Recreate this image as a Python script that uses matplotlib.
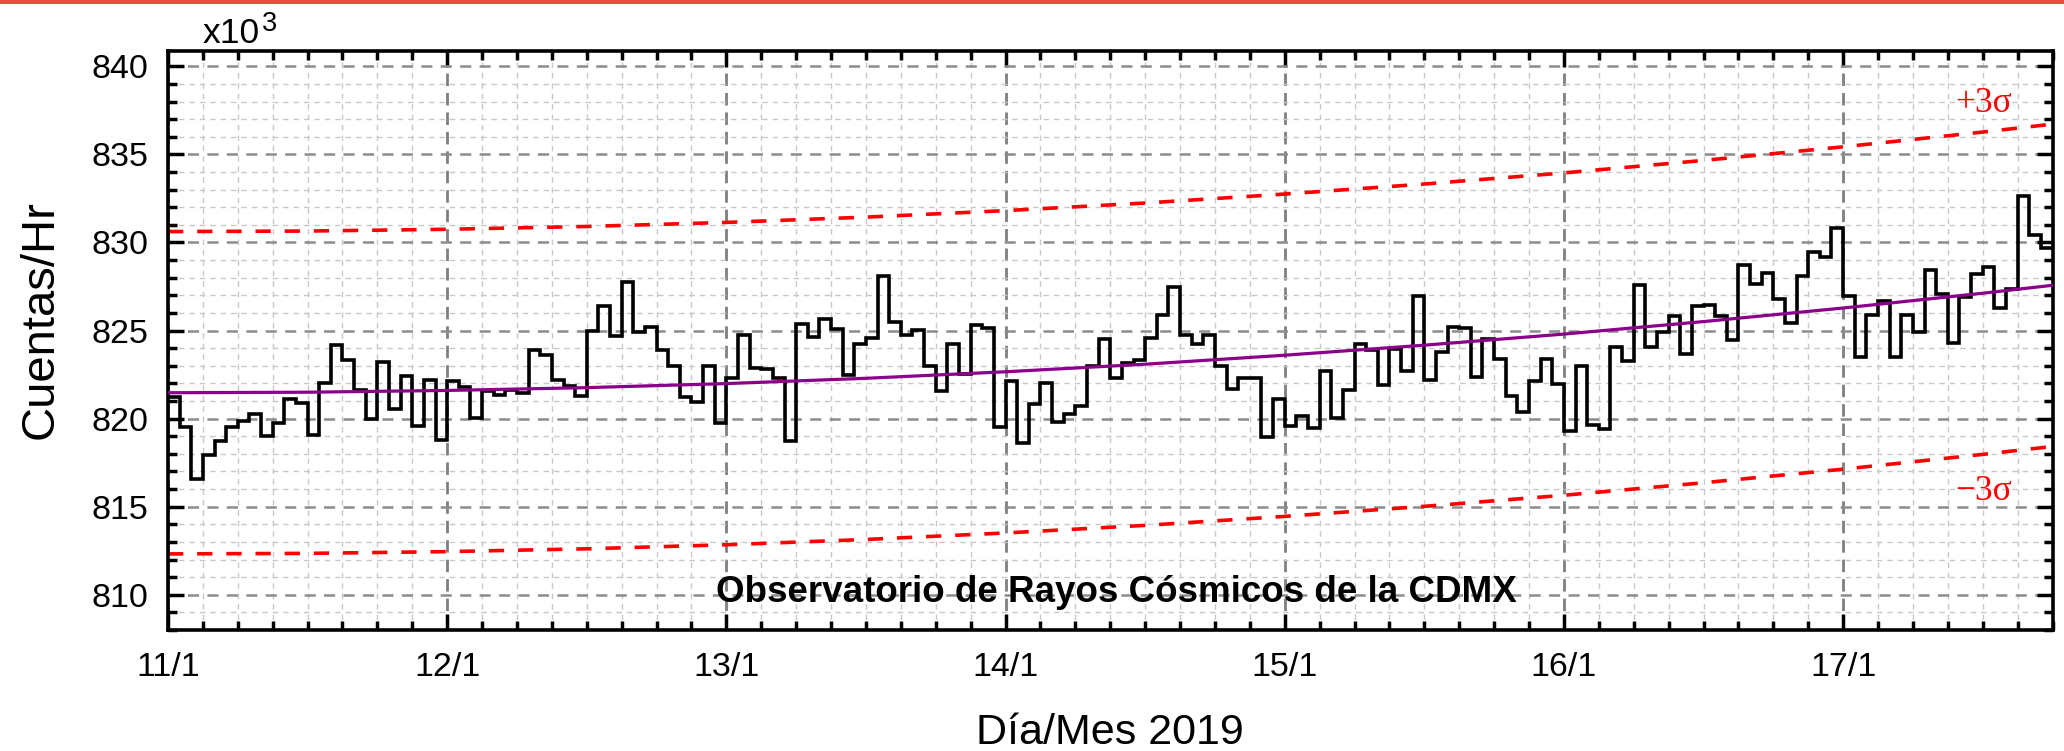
import numpy as np
import matplotlib
matplotlib.use('Agg')
import matplotlib.pyplot as plt
from matplotlib.ticker import MultipleLocator, FormatStrFormatter
from matplotlib.patches import Rectangle

plt.rcParams['font.family'] = ['Liberation Sans', 'DejaVu Sans']
plt.rcParams['lines.scale_dashes'] = False

# Cuentas por hora (x10^3), una por hora desde el 11/1 00:00
cuentas = [
    821.24, 819.54, 816.60, 817.93, 818.72, 819.50, 819.86, 820.24, 819.00, 819.73,
    821.14, 820.86, 819.06, 822.05, 824.17, 823.32, 821.62, 819.97, 823.22, 820.54,
    822.41, 819.61, 822.22, 818.78, 822.13, 821.81, 820.05, 821.58, 821.33, 821.60,
    821.48, 823.88, 823.60, 822.22, 821.84, 821.28, 825.00, 826.40, 824.70, 827.76,
    824.92, 825.20, 823.88, 823.00, 821.20, 820.95, 823.00, 819.78, 822.33, 824.74,
    822.90, 822.79, 822.33, 818.72, 825.40, 824.64, 825.68, 825.08, 822.50, 824.26,
    824.58, 828.08, 825.49, 824.77, 825.02, 822.98, 821.58, 824.26, 822.52, 825.30,
    825.17, 819.54, 822.15, 818.63, 820.82, 822.00, 819.82, 820.26, 820.73, 822.98,
    824.50, 822.33, 823.17, 823.32, 824.55, 825.87, 827.48, 824.77, 824.26, 824.77,
    822.98, 821.67, 822.33, 822.30, 818.97, 821.10, 819.61, 820.16, 819.48, 822.73,
    820.05, 821.62, 824.26, 823.92, 821.90, 823.94, 822.71, 826.95, 822.18, 823.79,
    825.21, 825.15, 822.37, 824.50, 823.36, 821.28, 820.35, 822.15, 823.41, 821.96,
    819.29, 823.00, 819.63, 819.39, 824.07, 823.28, 827.57, 824.04, 824.92, 825.83,
    823.66, 826.38, 826.43, 825.83, 824.45, 828.71, 827.63, 828.27, 826.81, 825.43,
    828.08, 829.46, 829.18, 830.84, 826.95, 823.51, 825.87, 826.68, 823.51, 825.90,
    824.92, 828.42, 827.10, 824.32, 826.91, 828.19, 828.60, 826.30, 827.38, 832.64,
    830.44, 829.70,
]
bordes = np.arange(len(cuentas) + 1)

# Ajuste (linea morada) y banda de 3 sigma
horas_ajuste = [0, 12, 24, 36, 48, 60, 72, 84, 96, 108, 120, 132, 144, 156, 162]
ajuste = [821.47, 821.50, 821.60, 821.76, 821.99, 822.29, 822.66, 823.09,
          823.60, 824.17, 824.80, 825.51, 826.28, 827.12, 827.57]
tres_sigma = 9.15

dias = ['11/1', '12/1', '13/1', '14/1', '15/1', '16/1', '17/1']
horas_dias = [0, 24, 48, 72, 96, 120, 144]

W, H = 2064, 751
fig = plt.figure(figsize=(W / 100, H / 100), dpi=100)
ax = fig.add_axes([168 / W, 1 - 630 / H, (2052.5 - 168) / W, (630 - 50.5) / H])

ajuste = np.array(ajuste)
ax.plot(horas_ajuste, ajuste + tres_sigma, color='red', lw=2.6, ls=(0, (11, 10)), zorder=2)
ax.plot(horas_ajuste, ajuste - tres_sigma, color='red', lw=2.6, ls=(0, (11, 10)), zorder=2)
ax.stairs(cuentas, bordes, baseline=None, color='black', lw=2.6, zorder=3)
ax.plot(horas_ajuste, ajuste, color='#8b008b', lw=2.3, zorder=4)

ax.set_xlim(0, 162)
ax.set_ylim(808, 840.9)

ax.set_xticks(horas_dias, dias)
ax.xaxis.set_minor_locator(MultipleLocator(3))
ax.yaxis.set_major_locator(MultipleLocator(5))
ax.yaxis.set_minor_locator(MultipleLocator(1))
ax.yaxis.set_major_formatter(FormatStrFormatter('%d'))

ax.set_axisbelow(True)
ax.yaxis.grid(True, which='major', color='#8c8c8c', lw=1.8, ls=(0, (8, 6)))
ax.xaxis.grid(True, which='major', color='#7f7f7f', lw=2.0, ls=(0, (9, 5)))
ax.grid(True, which='minor', color='#c8c8c8', lw=1.0, ls=(0, (4, 3.5)))

for s in ax.spines.values():
    s.set_linewidth(2.6)
ax.tick_params(which='both', direction='in', top=True, right=True, width=2.5,
               labelsize=24.5)
ax.tick_params(which='major', length=11.5)
ax.tick_params(which='minor', length=6.5)
ax.tick_params(axis='x', pad=16)
ax.tick_params(axis='y', pad=14)

ax.set_ylabel('Cuentas/Hr', fontsize=34)
ax.yaxis.set_label_coords(-0.0557, 0.535)
ax.set_xlabel('Día/Mes 2019', fontsize=31)
ax.xaxis.set_label_coords(0.5, -0.143)

serif = ['Liberation Serif', 'DejaVu Serif']
ax.text(156.1, 837.39, '+3σ', color='red', fontsize=25.5, family=serif,
        ha='center', va='baseline')
ax.text(156.1, 815.38, '\u22123σ', color='red', fontsize=25.5, family=serif,
        ha='center', va='baseline')
ax.text(0.503, 0.048, 'Observatorio de Rayos Cósmicos de la CDMX',
        transform=ax.transAxes, ha='center', va='baseline',
        fontsize=26.5, fontweight='bold')

fig.text(203 / W, 1 - 43 / H, 'x10', fontsize=25.5, ha='left', va='baseline')
fig.text(262 / W, 1 - 31 / H, '3', fontsize=19.5, ha='left', va='baseline')

# barra roja superior
fig.add_artist(Rectangle((0, 1 - 4 / H), 1, 4 / H, transform=fig.transFigure,
                         color='#e74c3c', lw=0))

fig.savefig('out.png', dpi=100)
